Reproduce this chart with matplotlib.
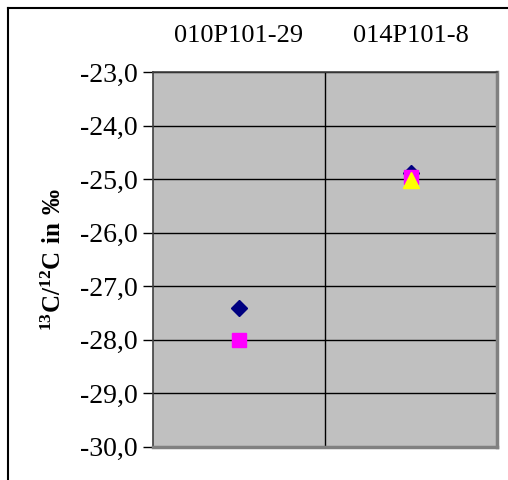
import matplotlib
matplotlib.use('Agg')
import matplotlib.pyplot as plt
from matplotlib.lines import Line2D

# samples and measured d13C values (per mil)
samples = ['010P101-29', '014P101-8']
series_diamond = [-27.4, -24.88]
series_square = [-28.0, -24.96]
series_triangle = [None, -25.01]

plt.rcParams['font.family'] = ['Liberation Serif', 'DejaVu Serif']
plt.rcParams['mathtext.fontset'] = 'custom'
plt.rcParams['mathtext.rm'] = 'Liberation Serif'
plt.rcParams['mathtext.bf'] = 'Liberation Serif:bold'

fig = plt.figure(figsize=(5.08, 4.8), dpi=100)
ax = fig.add_axes([0.301, 0.069, 0.677, 0.781])
ax.set_facecolor('#c0c0c0')

pos = list(range(len(samples)))

# grid behind the markers
ax.set_axisbelow(True)
ax.yaxis.grid(True, color='black', linewidth=1)
ax.set_xticks([p + 0.5 for p in pos[:-1]], minor=True)
ax.xaxis.grid(True, which='minor', color='black', linewidth=1)

ax.plot(pos, series_diamond, linestyle='none', marker='D', markersize=8,
        color='#000080', zorder=3)
ax.plot(pos, series_square, linestyle='none', marker='s', markersize=10,
        color='#ff00ff', zorder=4)
tri_x = [p for p, v in zip(pos, series_triangle) if v is not None]
tri_y = [v for v in series_triangle if v is not None]
ax.plot(tri_x, tri_y, linestyle='none', marker='^', markersize=11,
        color='#ffff00', zorder=5)

ax.set_xlim(-0.5, len(samples) - 0.5)
ax.set_ylim(-30, -23)
yt = list(range(-30, -22))
ax.set_yticks(yt)
ax.set_yticklabels([('%.1f' % v).replace('.', ',') for v in yt], fontsize=20)

ax.set_xticks(pos)
ax.set_xticklabels(samples, fontsize=19)
ax.xaxis.tick_top()
ax.tick_params(axis='x', which='both', length=0, pad=18)
ax.tick_params(axis='y', length=7, width=1, direction='out', pad=4)

for side in ['left', 'top']:
    ax.spines[side].set_color('#404040')
    ax.spines[side].set_linewidth(1.2)
for side in ['right', 'bottom']:
    ax.spines[side].set_color('#808080')
    ax.spines[side].set_linewidth(2.5)

ax.set_ylabel(r'$\mathbf{^{13}C/^{12}C\ in\ ‰}$', fontsize=18, labelpad=10)

# outer chart frame (left and top edges only visible)
fig.add_artist(Line2D([8 / 508, 8 / 508], [0, 1 - 8 / 480], color='black', linewidth=1.5))
fig.add_artist(Line2D([8 / 508, 1], [1 - 8 / 480, 1 - 8 / 480], color='black', linewidth=1.5))

plt.savefig('out.png', dpi=100)
